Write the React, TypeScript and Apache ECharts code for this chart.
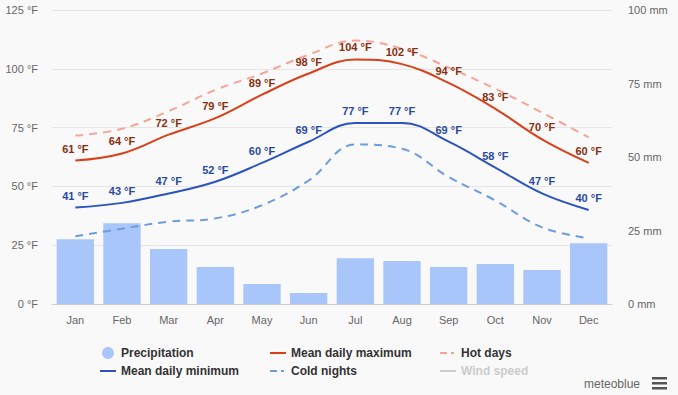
import React, { useEffect, useRef } from "react";
import * as echarts from "echarts";

const months = ["Jan", "Feb", "Mar", "Apr", "May", "Jun", "Jul", "Aug", "Sep", "Oct", "Nov", "Dec"];
const precipitation = [22, 27.5, 18.7, 12.6, 6.8, 3.7, 15.6, 14.6, 12.6, 13.6, 11.6, 20.7];
const meanMax = [61, 64, 72, 79, 89, 98, 104, 102, 94, 83, 70, 60];
const meanMin = [41, 43, 47, 52, 60, 69, 77, 77, 69, 58, 47, 40];
const hotDays = [71.6, 74.5, 82, 91, 98, 106, 112, 108.5, 100.5, 91.5, 81.4, 70.8];
const coldNights = [28.8, 32, 35, 36.4, 42, 52.5, 67.8, 66, 54, 44, 32.6, 28];
const windSpeed: number[] = [];
const tempTicks = [0, 125, 25];
const mmTicks = [0, 100, 25];

const FONT = "'Liberation Sans', Arial, sans-serif";
const SOLID_ICON = "path://M0,0h16v2h-16z";
const DASH_ICON = "path://M0,0h7v2h-7z M11,0h3v2h-3z M16,0h0.01v2h-0.01z";

function labelSeries(name: string, data: number[], color: string) {
  return {
    name,
    type: "scatter",
    data,
    symbol: "circle",
    symbolSize: 1,
    itemStyle: { color: "rgba(0,0,0,0)", opacity: 1 },
    silent: true,
    z: 6,
    label: {
      show: true,
      position: "top",
      distance: 6,
      formatter: (p: any) => `${p.value} °F`,
      color,
      opacity: 1,
      fontSize: 11,
      fontWeight: "bold",
      fontFamily: FONT,
    },
    labelLayout: { hideOverlap: false },
  };
}

export default function App() {
  const ref = useRef<HTMLDivElement>(null);
  useEffect(() => {
    if (!ref.current) return;
    const chart = echarts.init(ref.current, null, { renderer: "svg" });
    const legendText = { fontFamily: FONT, fontSize: 12, fontWeight: "bold" as const, color: "#333333", lineHeight: 12 };
    const legendBase = {
      orient: "vertical" as const,
      top: 342,
      itemWidth: 16,
      itemHeight: 12,
      itemGap: 6,
      inactiveColor: "#cccccc",
      textStyle: legendText,
      selectedMode: false as const,
    };
    chart.setOption({
      animation: false,
      backgroundColor: "#f9f9f9",
      textStyle: { fontFamily: FONT },
      grid: { left: 52, right: 66, top: 10, bottom: 91 },
      legend: [
        {
          ...legendBase,
          left: 95,
          data: [
            { name: "Precipitation", icon: "circle" },
            { name: "Mean daily minimum", icon: SOLID_ICON },
          ],
        },
        {
          ...legendBase,
          left: 265,
          data: [
            { name: "Mean daily maximum", icon: SOLID_ICON },
            { name: "Cold nights", icon: DASH_ICON },
          ],
        },
        {
          ...legendBase,
          left: 435,
          data: [
            { name: "Hot days", icon: DASH_ICON },
            { name: "Wind speed", icon: SOLID_ICON },
          ],
          selected: { "Wind speed": false },
        },
      ],
      xAxis: {
        type: "category",
        data: months,
        axisLine: { lineStyle: { color: "#cccccc" } },
        axisTick: { show: false },
        axisLabel: { color: "#666666", fontSize: 11, margin: 10, fontFamily: FONT },
      },
      yAxis: [
        {
          type: "value",
          min: tempTicks[0],
          max: tempTicks[1],
          interval: tempTicks[2],
          axisLabel: { formatter: "{value} °F", color: "#666666", fontSize: 11, margin: 14, fontFamily: FONT },
          splitLine: { lineStyle: { color: "#e6e6e6" } },
          axisLine: { show: false },
          axisTick: { show: false },
        },
        {
          type: "value",
          min: mmTicks[0],
          max: mmTicks[1],
          interval: mmTicks[2],
          position: "right",
          axisLabel: { formatter: "{value} mm", color: "#666666", fontSize: 11, margin: 16, fontFamily: FONT },
          splitLine: { show: false },
          axisLine: { show: false },
          axisTick: { show: false },
        },
      ],
      series: [
        {
          name: "Precipitation",
          type: "bar",
          yAxisIndex: 1,
          data: precipitation,
          barCategoryGap: "20%",
          itemStyle: { color: "#a8c6fa" },
          z: 1,
        },
        {
          name: "Mean daily maximum",
          type: "line",
          data: meanMax,
          smooth: 0.4,
          symbol: "none",
          lineStyle: { color: "#d9401a", width: 2 },
          itemStyle: { color: "#d9401a" },
          z: 4,
        },
        {
          name: "Mean daily minimum",
          type: "line",
          data: meanMin,
          smooth: 0.4,
          symbol: "none",
          lineStyle: { color: "#2b54bf", width: 2 },
          itemStyle: { color: "#2b54bf" },
          z: 4,
        },
        {
          name: "Hot days",
          type: "line",
          data: hotDays,
          smooth: 0.4,
          symbol: "none",
          lineStyle: { color: "#f4a597", width: 2, type: [8, 6] },
          itemStyle: { color: "#f4a597" },
          z: 3,
        },
        {
          name: "Cold nights",
          type: "line",
          data: coldNights,
          smooth: 0.4,
          symbol: "none",
          lineStyle: { color: "#6e9cdd", width: 2, type: [8, 6] },
          itemStyle: { color: "#6e9cdd" },
          z: 3,
        },
        {
          name: "Wind speed",
          type: "line",
          data: windSpeed,
          symbol: "none",
          lineStyle: { color: "#cccccc", width: 2 },
          itemStyle: { color: "#cccccc" },
        },
        labelSeries("maxLabels", meanMax, "#882f10"),
        labelSeries("minLabels", meanMin, "#2a4a9e"),
      ],
      graphic: [
        {
          type: "text",
          right: 38,
          top: 378,
          style: { text: "meteoblue", fill: "#666666", fontSize: 12, fontFamily: FONT },
        },
        { type: "rect", left: 652, top: 377, shape: { width: 15, height: 2.5 }, style: { fill: "#555555" } },
        { type: "rect", left: 652, top: 382, shape: { width: 15, height: 2.5 }, style: { fill: "#555555" } },
        { type: "rect", left: 652, top: 387, shape: { width: 15, height: 2.5 }, style: { fill: "#555555" } },
      ],
    });
    return () => chart.dispose();
  }, []);
  return (
    <div
      ref={ref}
      style={{ position: "fixed", left: 0, top: 0, width: 678, height: 395, background: "#f9f9f9" }}
    />
  );
}
